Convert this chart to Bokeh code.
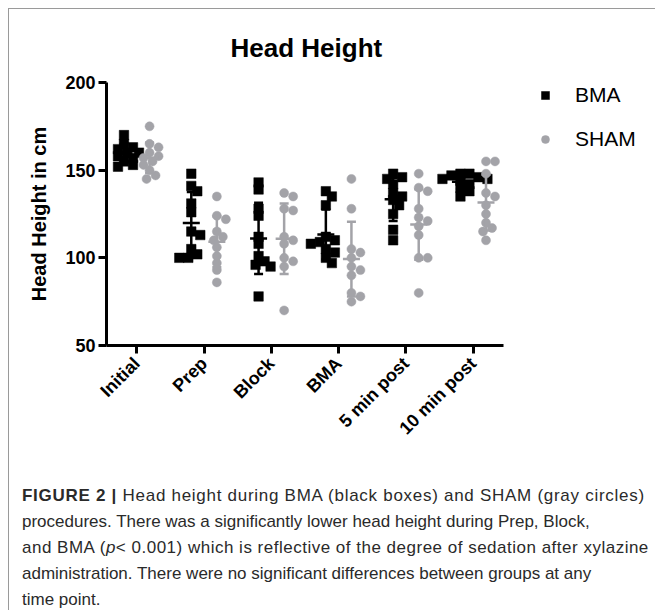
import numpy as np
from bokeh.plotting import figure
from bokeh.layouts import column
from bokeh.models import Range1d, FixedTicker, Legend, LegendItem, Div
from bokeh.embed import file_html
from bokeh.resources import INLINE

# ---------------- data ----------------
categories = ["Initial", "Prep", "Block", "BMA", "5 min post", "10 min post"]
y_ticks = [50, 100, 150, 200]

bma_initial = [170, 165, 163, 162, 160, 160, 158, 157, 155, 153, 152]
bma_prep = [148, 141, 138, 131, 126, 115, 113, 105, 102, 100, 100]
bma_block = [143, 139, 128, 124, 112, 108, 101, 98, 96, 95, 78]
bma_bma = [138, 135, 130, 112, 110, 109, 108, 105, 103, 100, 97]
bma_5min = [148, 146, 145, 142, 137, 135, 133, 130, 125, 116, 110]
bma_10min = [148, 148, 147, 146, 145, 145, 144, 142, 140, 138, 135]

sham_initial = [175, 165, 163, 160, 158, 157, 155, 153, 150, 147, 145]
sham_prep = [135, 124, 122, 115, 112, 110, 106, 101, 97, 93, 86]
sham_block = [137, 135, 128, 127, 112, 110, 108, 100, 98, 95, 70]
sham_bma = [145, 128, 105, 103, 100, 95, 93, 90, 80, 78, 75]
sham_5min = [148, 140, 138, 128, 123, 121, 118, 113, 100, 100, 80]
sham_10min = [155, 155, 148, 137, 135, 130, 125, 120, 117, 115, 110]

bma_groups = [bma_initial, bma_prep, bma_block, bma_bma, bma_5min, bma_10min]
sham_groups = [sham_initial, sham_prep, sham_block, sham_bma, sham_5min, sham_10min]

caption_html = (
    "<span style='letter-spacing:0.72px'><b>FIGURE 2 |</b> Head height during BMA (black boxes) and SHAM (gray circles)</span><br>"
    "procedures. There was a significantly lower head height during Prep, Block,<br>"
    "<span style='letter-spacing:0.5px'>and BMA (<i>p</i>&lt; 0.001) which is reflective of the degree of sedation after xylazine</span><br>"
    "administration. There were no significant differences between groups at any<br>"
    "time point."
)

# ---------------- layout ----------------
W, H = 646, 440
FL, FT, FB = 97, 73, 336
FR = W - 1
X0 = -0.45
X_END = 5.45          # end of the drawn x axis
AXIS_PX = 397         # pixel length of the drawn x axis
px_x = AXIS_PX / (X_END - X0)
X1 = X0 + (FR - FL) / px_x
Y0, Y1 = 50, 200
px_y = (FB - FT) / (Y1 - Y0)
DODGE = 0.19
GRAY = "#a3a3a8"
FONT = "Liberation Sans"


def swarm(vals, center, d=7.0, step=3.0):
    vals = np.asarray(vals, dtype=float)
    order = np.argsort(-vals, kind="stable")
    placed = []
    xs = np.zeros(len(vals))
    cands = [0.0]
    for j in range(1, 12):
        cands += [j * step, -j * step]
    for i in order:
        y = vals[i] * px_y
        off = 0.0
        for c in cands:
            if all((c - ox) ** 2 + (y - oy) ** 2 >= d * d for ox, oy in placed):
                off = c
                break
        placed.append((off, y))
        xs[i] = center + off / px_x
    return xs


p = figure(width=W, height=H, output_backend="svg", toolbar_location=None,
           x_range=Range1d(X0, X1), y_range=Range1d(Y0, Y1),
           min_border_left=FL, min_border_right=W - FR,
           min_border_top=FT, min_border_bottom=H - FB,
           title="Head Height")
p.outline_line_color = None
p.xgrid.visible = False
p.ygrid.visible = False
p.background_fill_color = "white"
p.border_fill_color = "white"

p.title.align = "left"
p.title.offset = 124
p.title.text_font = FONT
p.title.text_font_size = "26px"
p.title.text_font_style = "bold"
p.title.text_color = "black"
p.title.standoff = 40

for ax in (p.xaxis[0], p.yaxis[0]):
    ax.axis_line_width = 3
    ax.axis_line_color = "black"
    ax.major_tick_line_width = 3
    ax.major_tick_line_color = "black"
    ax.major_tick_in = 0
    ax.major_tick_out = 8
    ax.minor_tick_line_color = None
    ax.major_label_text_font = FONT
    ax.major_label_text_font_style = "bold"
    ax.major_label_text_color = "black"

p.xaxis.bounds = (X0, X_END)
p.xaxis.ticker = FixedTicker(ticks=list(range(len(categories))))
p.xaxis.major_label_overrides = {i: c for i, c in enumerate(categories)}
p.xaxis.major_label_orientation = np.pi / 4
p.xaxis.major_label_text_font_size = "18px"
p.xaxis.major_label_standoff = 7

p.yaxis.ticker = FixedTicker(ticks=y_ticks)
p.yaxis.major_label_text_font_size = "18px"
p.yaxis.major_label_standoff = 3
p.yaxis.axis_label = "Head Height in cm"
p.yaxis.axis_label_text_font = FONT
p.yaxis.axis_label_text_font_size = "20px"
p.yaxis.axis_label_text_font_style = "bold"
p.yaxis.axis_label_text_color = "black"
p.yaxis.axis_label_standoff = 12

bma_r = None
sham_r = None
for i, (bv, sv) in enumerate(zip(bma_groups, sham_groups)):
    for vals, sgn, color, marker in ((bv, -1, "black", "square"), (sv, 1, GRAY, "circle")):
        cx = i + sgn * DODGE
        xs = swarm(vals, cx)
        r = p.scatter(xs, vals, marker=marker, size=9.5 if marker == "square" else 9,
                      fill_color=color, line_color=color, line_width=0.5)
        if marker == "square":
            bma_r = r
        else:
            sham_r = r
        m = float(np.mean(vals))
        sd = float(np.std(vals, ddof=1))
        p.segment([cx], [m - sd], [cx], [m + sd], line_color=color, line_width=2.5)
        p.scatter([cx, cx], [m - sd, m + sd], marker="dash", size=9, line_color=color, line_width=2.5)
        p.scatter([cx], [m], marker="dash", size=17, line_color=color, line_width=2.5)

legend = Legend(items=[LegendItem(label="BMA", renderers=[bma_r]),
                       LegendItem(label="SHAM", renderers=[sham_r])],
                location=(429, 194))
legend.padding = 0
legend.margin = 0
legend.spacing = 20
legend.glyph_width = 20
legend.glyph_height = 24
legend.label_height = 24
legend.label_standoff = 20
legend.label_text_font = FONT
legend.label_text_font_size = "21px"
legend.label_text_color = "black"
legend.border_line_color = None
legend.background_fill_alpha = 0
p.add_layout(legend, "center")

# ---------------- caption ----------------
div = Div(text=caption_html, width=W, height=161,
          styles={"font-family": "'Liberation Sans', Arial, sans-serif", "font-size": "17px",
                  "line-height": "26px", "color": "#2a2a2a", "padding-left": "8px",
                  "padding-top": "29px", "overflow": "hidden", "box-sizing": "border-box",
                  "white-space": "nowrap"})

layout = column(p, div, spacing=0,
                styles={"margin-left": "8px", "margin-top": "8px",
                        "border-left": "1px solid #9a9a9a", "border-top": "1px solid #9a9a9a"})

open("out.html", "w").write(file_html(layout, INLINE))
